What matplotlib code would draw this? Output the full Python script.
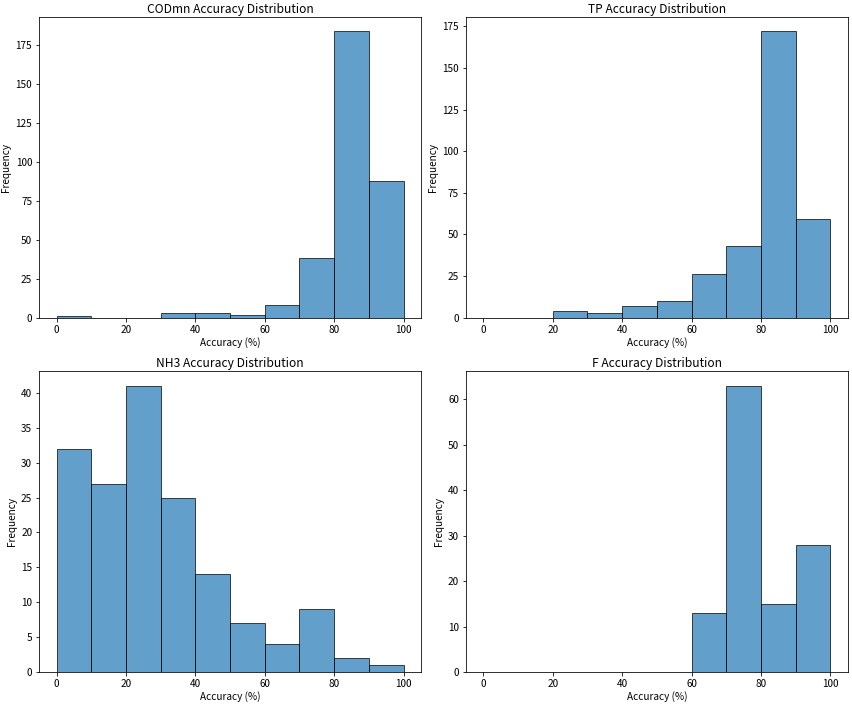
import numpy as np
import matplotlib
matplotlib.use("Agg")
import matplotlib.pyplot as plt

plt.rcParams['font.family'] = ['Noto Sans CJK SC', 'DejaVu Sans']
plt.rcParams['axes.unicode_minus'] = False

bin_edges = np.arange(0, 101, 10)

codmn_counts = [1, 0, 0, 3, 3, 2, 8, 38, 184, 88]
tp_counts = [0, 0, 4, 3, 7, 10, 26, 43, 172, 59]
nh3_counts = [32, 27, 41, 25, 14, 7, 4, 9, 2, 1]
f_counts = [0, 0, 0, 0, 0, 0, 13, 63, 15, 28]

titles = ["CODmn", "TP", "NH3", "F"]
all_counts = [codmn_counts, tp_counts, nh3_counts, f_counts]

fig, axes = plt.subplots(2, 2, figsize=(852 / 72, 706 / 72), dpi=72)

centers = (bin_edges[:-1] + bin_edges[1:]) / 2
for ax, name, counts in zip(axes.flat, titles, all_counts):
    ax.hist(centers, bins=bin_edges, weights=counts, alpha=0.7,
            edgecolor="black", color="tab:blue")
    ax.set_title(f"{name} Accuracy Distribution", fontsize=12, pad=4)
    ax.set_xlabel("Accuracy (%)", labelpad=2)
    ax.set_ylabel("Frequency", labelpad=4)

fig.subplots_adjust(left=0.046, right=0.995, top=0.976, bottom=0.048,
                    wspace=0.118, hspace=0.179)
plt.savefig("out.png", dpi=72)
